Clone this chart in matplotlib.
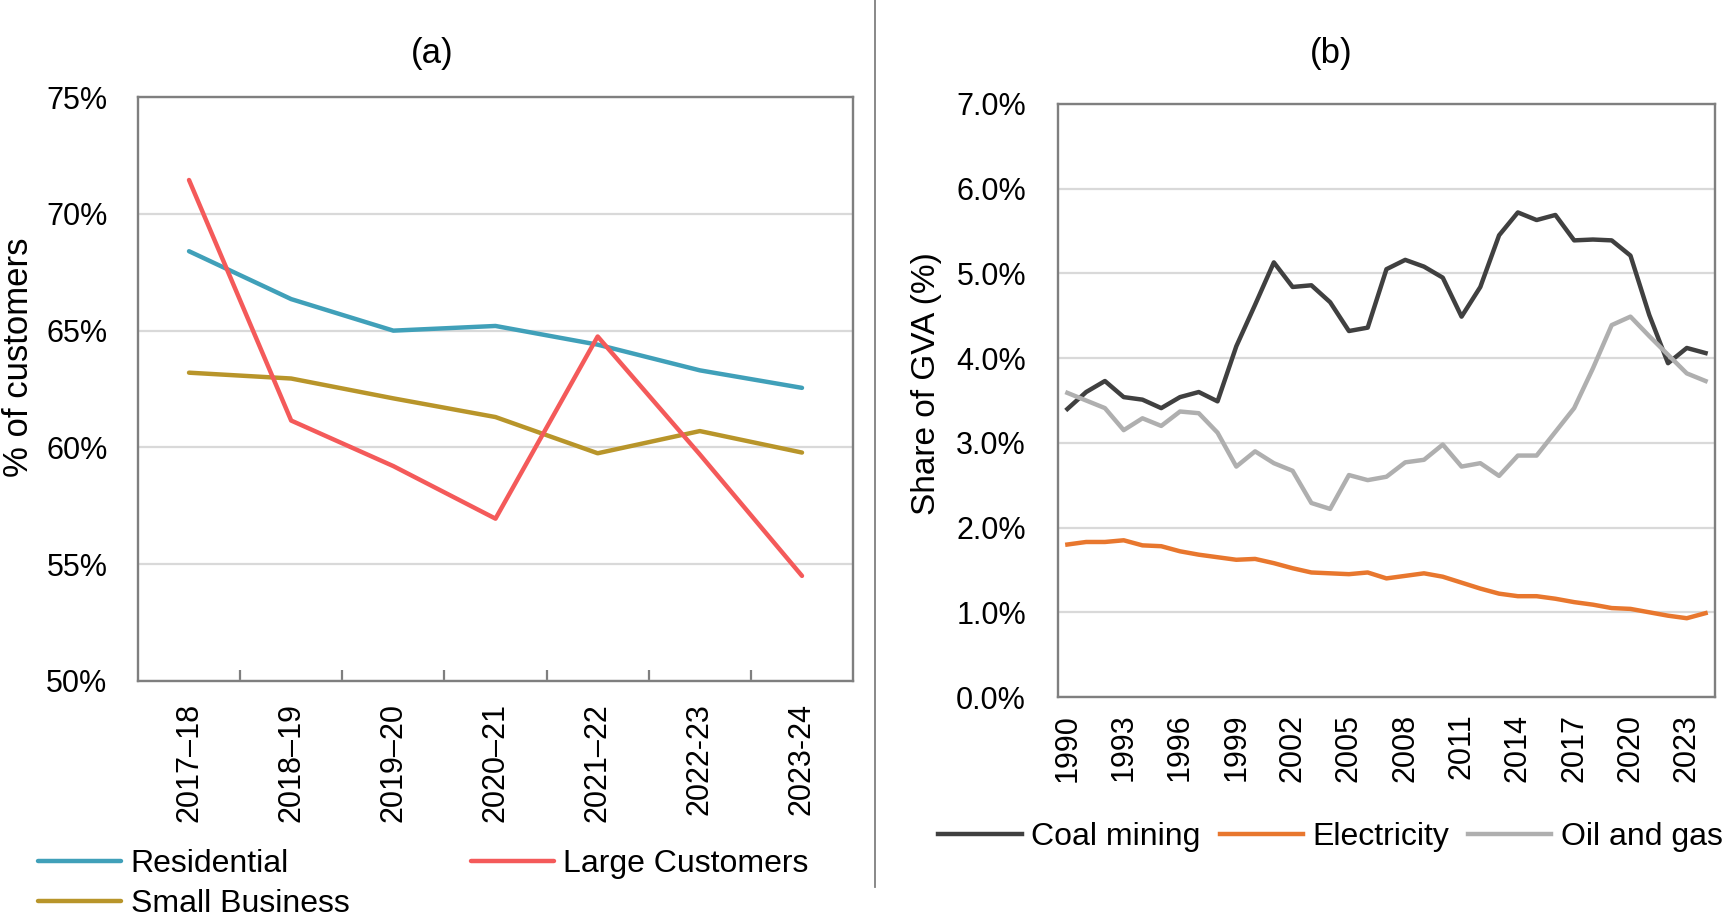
import numpy as np
import matplotlib
matplotlib.use("Agg")
import matplotlib.pyplot as plt
from matplotlib.lines import Line2D
from matplotlib.ticker import FuncFormatter, FixedLocator

plt.rcParams['font.family'] = ['Liberation Sans', 'DejaVu Sans']

# panel (a) data - share of customers
periods = ["2017–18", "2018–19", "2019–20", "2020–21", "2021–22", "2022-23", "2023-24"]
residential = [68.4, 66.35, 65.0, 65.2, 64.4, 63.3, 62.55]
large_customers = [71.45, 61.15, 59.2, 56.95, 64.75, 59.7, 54.5]
small_business = [63.2, 62.95, 62.1, 61.3, 59.75, 60.7, 59.78]

# panel (b) data - share of GVA
years = list(range(1990, 2025))
coal_mining = [3.40, 3.60, 3.73, 3.54, 3.51, 3.41, 3.54, 3.60, 3.49, 4.14,
               4.63, 5.13, 4.84, 4.86, 4.66, 4.32, 4.36, 5.05, 5.16, 5.08,
               4.95, 4.49, 4.84, 5.45, 5.72, 5.63, 5.69, 5.39, 5.40, 5.39,
               5.21, 4.51, 3.94, 4.12, 4.06]
electricity = [1.80, 1.83, 1.83, 1.85, 1.79, 1.78, 1.72, 1.68, 1.65, 1.62,
               1.63, 1.58, 1.52, 1.47, 1.46, 1.45, 1.47, 1.40, 1.43, 1.46,
               1.42, 1.35, 1.28, 1.22, 1.19, 1.19, 1.16, 1.12, 1.09, 1.05,
               1.04, 1.00, 0.96, 0.93, 0.99]
oil_and_gas = [3.59, 3.50, 3.41, 3.15, 3.29, 3.20, 3.37, 3.35, 3.12, 2.72,
               2.90, 2.76, 2.67, 2.29, 2.22, 2.62, 2.56, 2.60, 2.77, 2.80,
               2.98, 2.72, 2.76, 2.61, 2.85, 2.85, 3.13, 3.41, 3.88, 4.39,
               4.49, 4.26, 4.04, 3.82, 3.73]

spine_col = "#7f7f7f"
grid_col = "#d9d9d9"

fig = plt.figure(figsize=(17.22, 9.21), dpi=100)

# ---------------- panel (a)
ax1 = fig.add_axes([0.0801, 0.2606, 0.4153, 0.634])
x = np.arange(len(periods))
ax1.plot(x, residential, color="#40a0b9", lw=3.2, label="Residential", solid_capstyle="round")
ax1.plot(x, small_business, color="#b8952a", lw=3.2, label="Small Business", solid_capstyle="round")
ax1.plot(x, large_customers, color="#f45a5a", lw=3.2, label="Large Customers", solid_capstyle="round")
ax1.set_xlim(-0.5, len(periods) - 0.5)
ax1.set_ylim(50, 75)
ax1.set_yticks(np.arange(50, 76, 5))
ax1.yaxis.set_major_formatter(FuncFormatter(lambda v, p: "%d%%" % v))
ax1.set_xticks(x)
ax1.set_xticklabels(periods, rotation=90)
ax1.xaxis.set_minor_locator(FixedLocator(np.arange(0.5, len(periods) - 1, 1)))
ax1.tick_params(axis="x", which="major", length=0, pad=16, labelsize=22)
ax1.tick_params(axis="x", which="minor", length=8, width=1.6, direction="in", color=spine_col)
ax1.tick_params(axis="y", length=0, pad=22, labelsize=22)
ax1.grid(axis="y", color=grid_col, lw=1.6)
ax1.set_axisbelow(True)
for s in ax1.spines.values():
    s.set_color(spine_col)
    s.set_linewidth(1.7)

ax1.legend(loc="upper left", bbox_to_anchor=(0.022, 0.078), bbox_transform=fig.transFigure,
           ncol=2, frameon=False, fontsize=23, handlelength=2.6, handletextpad=0.3,
           columnspacing=3.8, borderpad=0, borderaxespad=0, labelspacing=0.3)

fig.text(0.251, 0.942, "(a)", fontsize=25, ha="center", va="center")
fig.text(0.0105, 0.612, "% of customers", fontsize=25, rotation=90, ha="center", va="center")

# ---------------- panel (b)
ax2 = fig.add_axes([0.6144, 0.2432, 0.3815, 0.6439])
ax2.plot(years, coal_mining, color="#404040", lw=3.2, label="Coal mining")
ax2.plot(years, electricity, color="#e8772e", lw=3.2, label="Electricity")
ax2.plot(years, oil_and_gas, color="#afafaf", lw=3.2, label="Oil and gas")
ax2.set_xlim(1989.5, 2024.5)
ax2.set_ylim(0, 7)
ax2.set_yticks(np.arange(0, 7.5, 1))
ax2.yaxis.set_major_formatter(FuncFormatter(lambda v, p: "%.1f%%" % v))
ax2.set_xticks(years[::3])
ax2.set_xticklabels([str(y) for y in years[::3]], rotation=90)
ax2.tick_params(axis="x", length=0, pad=12, labelsize=22)
ax2.tick_params(axis="y", length=0, pad=23, labelsize=22)
ax2.grid(axis="y", color=grid_col, lw=1.6)
ax2.set_axisbelow(True)
for s in ax2.spines.values():
    s.set_color(spine_col)
    s.set_linewidth(1.7)

ax2.legend(loc="center left", bbox_to_anchor=(0.545, 0.091), bbox_transform=fig.transFigure,
           ncol=3, frameon=False, fontsize=23, handlelength=2.6, handletextpad=0.3,
           columnspacing=0.6, borderpad=0, borderaxespad=0)

fig.text(0.773, 0.942, "(b)", fontsize=25, ha="center", va="center")
fig.text(0.538, 0.583, "Share of GVA (%)", fontsize=24, rotation=90, ha="center", va="center")

# divider between the two panels
fig.add_artist(Line2D([0.508, 0.508], [0.037, 1.0], transform=fig.transFigure,
                      color=spine_col, lw=1.3))

fig.savefig("out.png", dpi=100)
